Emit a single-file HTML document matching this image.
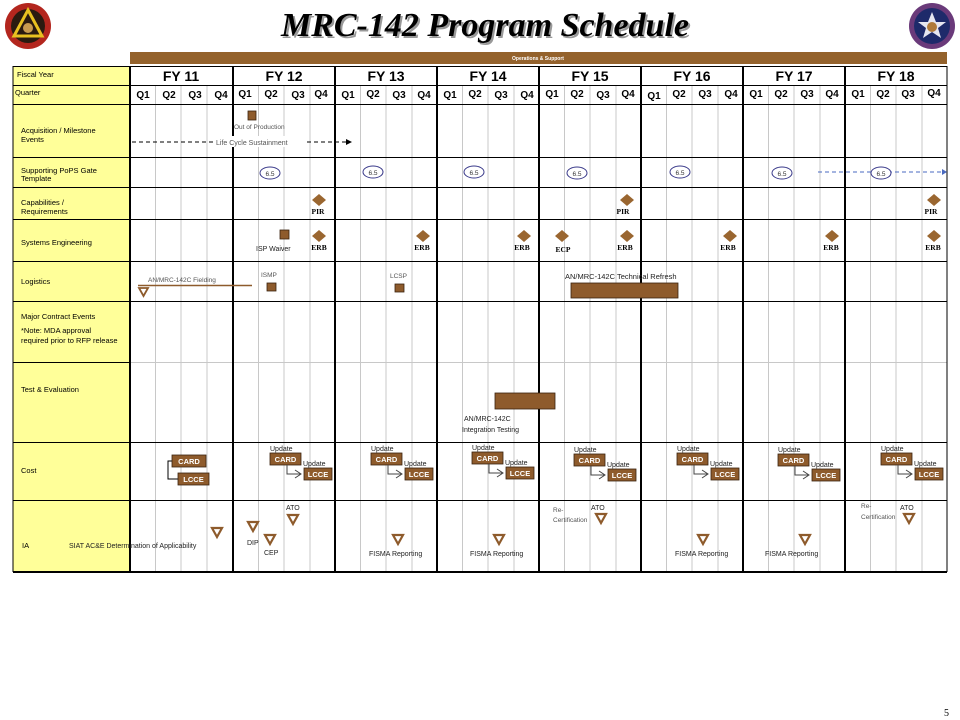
<!DOCTYPE html>
<html><head><meta charset="utf-8"><style>
html,body{margin:0;padding:0;background:#fff;}
svg{display:block;}
text{font-family:"Liberation Sans",Arial,sans-serif;}
.s{font-size:7px;fill:#222;}
.g{font-size:6.5px;fill:#555;}
.q{font-size:10px;font-weight:bold;fill:#000;}
.fy{font-size:14px;font-weight:bold;fill:#000;}
.lab{font-size:7.5px;fill:#000;}
.ser text{font-family:"Liberation Serif",serif;font-size:7.5px;font-weight:bold;fill:#000;}
.bx{fill:#8e5b2c;stroke:#3a2410;stroke-width:0.8;}
.bt{font-size:7.5px;font-weight:bold;fill:#fff;}
.dm{fill:#9a6630;}
.tri{fill:none;stroke:#8e5b2c;stroke-width:2.2;}
</style></head><body>
<svg width="960" height="720" viewBox="0 0 960 720" xmlns="http://www.w3.org/2000/svg">
<!-- logos -->
<circle cx="28" cy="26" r="23" fill="#b3261e"/>
<circle cx="28" cy="26" r="17" fill="#2a1a10"/>
<polygon points="28,10 42,36 14,36" fill="none" stroke="#e8c020" stroke-width="3"/>
<circle cx="28" cy="28" r="5" fill="#c89a50"/>
<circle cx="932" cy="26" r="23" fill="#6a3a7a"/>
<circle cx="932" cy="26" r="18" fill="#1e2a6a"/>
<polygon points="932,12 936,22 946,22 938,28 941,38 932,32 923,38 926,28 918,22 928,22" fill="#e6e6f0"/>
<circle cx="932" cy="27" r="5" fill="#b07a3a"/>
<!-- title -->
<text x="487" y="38" text-anchor="middle" style="font-family:'Liberation Serif',serif;font-size:34px;font-style:italic;font-weight:bold;fill:#999">MRC-142 Program Schedule</text>
<text x="485" y="36" text-anchor="middle" style="font-family:'Liberation Serif',serif;font-size:34px;font-style:italic;font-weight:bold;fill:#000">MRC-142 Program Schedule</text>
<!-- ops band -->
<rect x="130" y="52" width="817" height="12" fill="#94622c"/>
<text x="538" y="60" text-anchor="middle" style="font-size:5px;font-weight:bold;fill:#fff">Operations &amp; Support</text>
<!-- left column -->
<rect x="13" y="66" width="117" height="506" fill="#ffff99"/>
<!-- quarter gray lines -->
<g stroke="#c8c8c8" stroke-width="1">
<line x1="155.5" y1="85" x2="155.5" y2="572"/><line x1="181" y1="85" x2="181" y2="572"/><line x1="207" y1="85" x2="207" y2="572"/>
<line x1="258.5" y1="85" x2="258.5" y2="572"/><line x1="284" y1="85" x2="284" y2="572"/><line x1="310" y1="85" x2="310" y2="572"/>
<line x1="360.5" y1="85" x2="360.5" y2="572"/><line x1="386" y1="85" x2="386" y2="572"/><line x1="412" y1="85" x2="412" y2="572"/>
<line x1="462.5" y1="85" x2="462.5" y2="572"/><line x1="488" y1="85" x2="488" y2="572"/><line x1="514" y1="85" x2="514" y2="572"/>
<line x1="564.5" y1="85" x2="564.5" y2="572"/><line x1="590" y1="85" x2="590" y2="572"/><line x1="616" y1="85" x2="616" y2="572"/>
<line x1="666.5" y1="85" x2="666.5" y2="572"/><line x1="692" y1="85" x2="692" y2="572"/><line x1="718" y1="85" x2="718" y2="572"/>
<line x1="768.5" y1="85" x2="768.5" y2="572"/><line x1="794" y1="85" x2="794" y2="572"/><line x1="820" y1="85" x2="820" y2="572"/>
<line x1="870.5" y1="85" x2="870.5" y2="572"/><line x1="896" y1="85" x2="896" y2="572"/><line x1="922" y1="85" x2="922" y2="572"/>
<line x1="130" y1="362.5" x2="947" y2="362.5"/>
</g>
<!-- horizontal rows -->
<g stroke="#000" stroke-width="1">
<line x1="13" y1="66.5" x2="947" y2="66.5"/>
<line x1="13" y1="85.5" x2="947" y2="85.5"/>
<line x1="13" y1="104.5" x2="947" y2="104.5"/>
<line x1="13" y1="157.5" x2="947" y2="157.5"/>
<line x1="13" y1="187.5" x2="947" y2="187.5"/>
<line x1="13" y1="219.5" x2="947" y2="219.5"/>
<line x1="13" y1="261.5" x2="947" y2="261.5"/>
<line x1="13" y1="301.5" x2="947" y2="301.5"/>
<line x1="13" y1="362.5" x2="130" y2="362.5"/>
<line x1="13" y1="442.5" x2="947" y2="442.5"/>
<line x1="13" y1="500.5" x2="947" y2="500.5"/>
<line x1="13" y1="66" x2="13" y2="572"/>
</g>
<line x1="13" y1="572" x2="947" y2="572" stroke="#000" stroke-width="2"/>
<g stroke="#000" stroke-width="2">
<line x1="130" y1="66" x2="130" y2="572"/><line x1="233" y1="66" x2="233" y2="572"/><line x1="335" y1="66" x2="335" y2="572"/>
<line x1="437" y1="66" x2="437" y2="572"/><line x1="539" y1="66" x2="539" y2="572"/><line x1="641" y1="66" x2="641" y2="572"/>
<line x1="743" y1="66" x2="743" y2="572"/><line x1="845" y1="66" x2="845" y2="572"/>
</g>
<line x1="947" y1="66" x2="947" y2="572" stroke="#000" stroke-width="1"/>
<!-- FY labels -->
<g text-anchor="middle">
<text x="181" y="81" class="fy">FY 11</text><text x="284" y="81" class="fy">FY 12</text><text x="386" y="81" class="fy">FY 13</text><text x="488" y="81" class="fy">FY 14</text>
<text x="590" y="81" class="fy">FY 15</text><text x="692" y="81" class="fy">FY 16</text><text x="794" y="81" class="fy">FY 17</text><text x="896" y="81" class="fy">FY 18</text>
</g>
<g text-anchor="middle">
<text class="q" x="143" y="98">Q1</text><text class="q" x="169" y="98">Q2</text><text class="q" x="195" y="98">Q3</text><text class="q" x="221" y="98">Q4</text>
<text class="q" x="245" y="97">Q1</text><text class="q" x="271" y="97">Q2</text><text class="q" x="298" y="98">Q3</text><text class="q" x="321" y="97">Q4</text>
<text class="q" x="348" y="98">Q1</text><text class="q" x="373" y="97">Q2</text><text class="q" x="399" y="98">Q3</text><text class="q" x="424" y="98">Q4</text>
<text class="q" x="450" y="98">Q1</text><text class="q" x="475" y="97">Q2</text><text class="q" x="501" y="98">Q3</text><text class="q" x="527" y="98">Q4</text>
<text class="q" x="552" y="97">Q1</text><text class="q" x="577" y="97">Q2</text><text class="q" x="603" y="98">Q3</text><text class="q" x="628" y="97">Q4</text>
<text class="q" x="654" y="99">Q1</text><text class="q" x="679" y="97">Q2</text><text class="q" x="705" y="97">Q3</text><text class="q" x="731" y="97">Q4</text>
<text class="q" x="756" y="97">Q1</text><text class="q" x="781" y="97">Q2</text><text class="q" x="807" y="97">Q3</text><text class="q" x="832" y="97">Q4</text>
<text class="q" x="858" y="97">Q1</text><text class="q" x="883" y="97">Q2</text><text class="q" x="908" y="97">Q3</text><text class="q" x="934" y="96">Q4</text>
</g>
<!-- left labels -->
<g class="lab">
<text x="17" y="77">Fiscal Year</text>
<text x="15" y="95">Quarter</text>
<text x="21" y="133">Acquisition / Milestone</text><text x="21" y="142">Events</text>
<text x="21" y="173">Supporting PoPS Gate</text><text x="21" y="181">Template</text>
<text x="21" y="205">Capabilities /</text><text x="21" y="214">Requirements</text>
<text x="21" y="245">Systems Engineering</text>
<text x="21" y="284">Logistics</text>
<text x="21" y="319">Major Contract Events</text>
<text x="21" y="333">*Note: MDA approval</text><text x="21" y="343">required prior to RFP release</text>
<text x="21" y="392">Test &amp; Evaluation</text>
<text x="21" y="473">Cost</text>
<text x="22" y="548">IA</text>
</g>
<!-- acquisition -->
<rect x="248" y="111" width="8" height="9" class="bx"/>
<text class="g" x="234" y="129">Out of Production</text>
<line x1="132" y1="142" x2="346" y2="142" stroke="#000" stroke-dasharray="4,3"/>
<polygon points="346,139 352,142 346,145" fill="#000"/>
<rect x="213" y="136" width="92" height="11" fill="#fff"/>
<text class="g" x="216" y="145" style="font-size:7px">Life Cycle Sustainment</text>
<!-- PoPS -->
<g fill="#fff" stroke="#3a3a8a" stroke-width="1">
<ellipse cx="270" cy="173" rx="10" ry="6"/><ellipse cx="373" cy="172" rx="10" ry="6"/><ellipse cx="474" cy="172" rx="10" ry="6"/>
<ellipse cx="577" cy="173" rx="10" ry="6"/><ellipse cx="680" cy="172" rx="10" ry="6"/><ellipse cx="782" cy="173" rx="10" ry="6"/>
</g>
<line x1="818" y1="172" x2="943" y2="172" stroke="#4a6ac0" stroke-dasharray="4,3"/>
<polygon points="942,169 947,172 942,175" fill="#4a6ac0"/>
<ellipse cx="881" cy="173" rx="10" ry="6" fill="#fff" stroke="#3a3a8a"/>
<g class="g" text-anchor="middle" style="fill:#333">
<text x="270" y="176">6.5</text><text x="373" y="175">6.5</text><text x="474" y="175">6.5</text><text x="577" y="176">6.5</text><text x="680" y="175">6.5</text><text x="782" y="176">6.5</text><text x="881" y="176">6.5</text>
</g>
<!-- diamonds -->
<g class="dm">
<polygon points="319,194 326,200 319,206 312,200"/><polygon points="627,194 634,200 627,206 620,200"/><polygon points="934,194 941,200 934,206 927,200"/>
<polygon points="319,230 326,236 319,242 312,236"/><polygon points="423,230 430,236 423,242 416,236"/><polygon points="524,230 531,236 524,242 517,236"/>
<polygon points="562,230 569,236 562,242 555,236"/><polygon points="627,230 634,236 627,242 620,236"/><polygon points="730,230 737,236 730,242 723,236"/>
<polygon points="832,230 839,236 832,242 825,236"/><polygon points="934,230 941,236 934,242 927,236"/>
</g>
<g class="ser" text-anchor="middle">
<text x="318" y="214">PIR</text><text x="623" y="214">PIR</text><text x="931" y="214">PIR</text>
<text x="319" y="250">ERB</text><text x="422" y="250">ERB</text><text x="522" y="250">ERB</text><text x="563" y="252">ECP</text>
<text x="625" y="250">ERB</text><text x="728" y="250">ERB</text><text x="831" y="250">ERB</text><text x="933" y="250">ERB</text>
</g>
<rect x="280" y="230" width="9" height="9" class="bx"/>
<text class="s" x="256" y="251">ISP Waiver</text>
<!-- logistics -->
<text class="g" x="148" y="282">AN/MRC-142C Fielding</text>
<line x1="138" y1="285.5" x2="252" y2="285.5" stroke="#8e5b2c" stroke-width="1.5"/>
<polygon points="139,288 148,288 143.5,296" class="tri" style="stroke-width:1.8"/>
<text class="g" x="261" y="277">ISMP</text>
<rect x="267" y="283" width="9" height="8" class="bx"/>
<text class="g" x="390" y="278">LCSP</text>
<rect x="395" y="284" width="9" height="8" class="bx"/>
<text class="s" x="565" y="279" style="font-size:7.5px">AN/MRC-142C Technical Refresh</text>
<rect x="571" y="283" width="107" height="15" class="bx"/>
<!-- T&E -->
<rect x="495" y="393" width="60" height="16" class="bx"/>
<text class="s" x="464" y="421">AN/MRC-142C</text>
<text class="s" x="462" y="432">Integration Testing</text>
<!-- cost FY11 -->
<path d="M172,461 H168 V479 H178" fill="none" stroke="#000" stroke-width="1"/>
<rect x="172" y="455" width="34" height="12" class="bx"/><text class="bt" x="189" y="464" text-anchor="middle">CARD</text>
<rect x="178" y="473" width="31" height="12" class="bx"/><text class="bt" x="193.5" y="482" text-anchor="middle">LCCE</text>
<!-- cost repeated -->
<g id="c12">
<text class="s" x="270" y="451">Update</text>
<rect x="270" y="453" width="31" height="12" class="bx"/><text class="bt" x="285.5" y="462" text-anchor="middle">CARD</text>
<text class="s" x="303" y="466">Update</text>
<rect x="304" y="468" width="28" height="12" class="bx"/><text class="bt" x="318" y="477" text-anchor="middle">LCCE</text>
<path d="M287,465 V474 H300 M295,470 L301,474 L295,478" fill="none" stroke="#444" stroke-width="1"/>
</g>
<use href="#c12" x="101" y="0"/>
<use href="#c12" x="202" y="-1"/>
<use href="#c12" x="304" y="1"/>
<use href="#c12" x="407" y="0"/>
<use href="#c12" x="508" y="1"/>
<use href="#c12" x="611" y="0"/>
<!-- IA -->
<g class="tri">
<polygon points="212,528 222,528 217,537"/>
<polygon points="248,522 258,522 253,531"/>
<polygon points="265,535 275,535 270,544"/>
<polygon points="288,515 298,515 293,524"/>
<polygon points="393,535 403,535 398,544"/>
<polygon points="494,535 504,535 499,544"/>
<polygon points="596,514 606,514 601,523"/>
<polygon points="698,535 708,535 703,544"/>
<polygon points="800,535 810,535 805,544"/>
<polygon points="904,514 914,514 909,523"/>
</g>
<g class="s">
<text x="69" y="548">SIAT AC&amp;E Determination  of Applicability</text>
<text x="247" y="545">DIP</text><text x="264" y="555">CEP</text><text x="286" y="510">ATO</text>
<text x="369" y="556">FISMA Reporting</text><text x="470" y="556">FISMA Reporting</text>
<text x="591" y="510">ATO</text>
<text x="675" y="556">FISMA Reporting</text><text x="765" y="556">FISMA Reporting</text>
<text x="900" y="510">ATO</text>
</g>
<g class="g">
<text x="553" y="512">Re-</text><text x="553" y="522">Certification</text>
<text x="861" y="508">Re-</text><text x="861" y="519">Certification</text>
</g>
<text x="944" y="716" style="font-family:'Liberation Serif',serif;font-size:10px">5</text>
</svg>
</body></html>
